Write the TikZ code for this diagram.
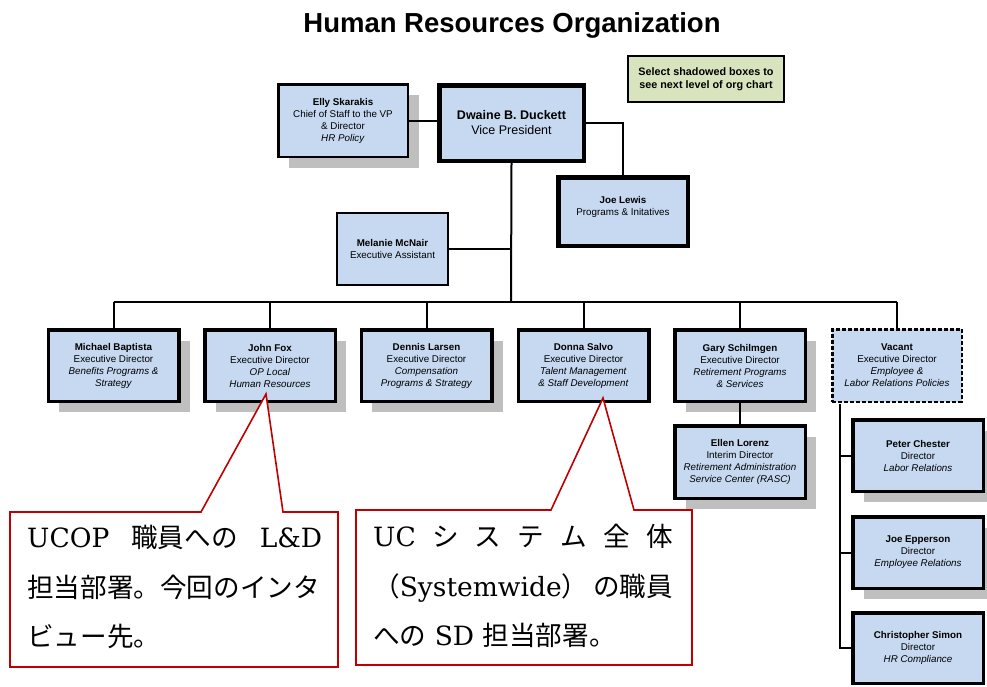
\documentclass[tikz,border=0pt]{standalone}
\usepackage{fontspec}
\newfontfamily\arialf{Liberation Sans}
\newfontfamily\cjkf{Noto Sans CJK JP}
\newfontfamily\lmser{DejaVu Serif}
\newcommand\jpx[1]{{\cjkf\fontsize{26.6}{30}\selectfont #1}}
\usetikzlibrary{shadows}
\definecolor{boxblue}{RGB}{198,217,241}
\definecolor{shadowgray}{RGB}{191,191,191}
\definecolor{notegreen}{RGB}{215,228,189}
\definecolor{callred}{RGB}{192,0,0}
\begin{document}
\begin{tikzpicture}[x=1pt,y=-1pt,
  orgbox/.style={draw=black, fill=boxblue, align=center, inner sep=0pt,
    font=\arialf\fontsize{9.8}{12}\selectfont},
  thickbox/.style={orgbox, line width=3.5pt, minimum width=130.5pt, minimum height=71.5pt},
  thinbox/.style={orgbox, line width=2pt},
  shadowed/.style={drop shadow={shadow xshift=11pt, shadow yshift=-11pt, fill=shadowgray, opacity=1}},
  conn/.style={draw=black, line width=2pt},
  callout/.style={draw=callred, line width=1.6pt, fill=white, line join=miter},
  calltext/.style={anchor=base west, inner sep=0pt, font=\lmser\fontsize{26.5}{30}\selectfont}
]
\useasboundingbox (0,0) rectangle (987,686);

% title
\node[font=\arialf\bfseries\fontsize{27.5}{30}\selectfont] (title) at (512,25) {Human Resources Organization};

% green note
\node[draw=black, line width=2pt, fill=notegreen, minimum width=156pt, minimum height=46pt,
      align=center, inner sep=0pt, font=\arialf\bfseries\fontsize{10.8}{13.5}\selectfont]
      (note) at (706,79) {Select shadowed boxes to\\see next level of org chart};

% top level
\node[thinbox, line width=2.5pt, minimum width=129.5pt, minimum height=72.5pt, shadowed] (elly) at (343,120.5)
  {\textbf{Elly Skarakis}\\Chief of Staff to the VP\\\& Director\\\textit{HR Policy}};
\node[orgbox, line width=4.5pt, minimum width=144.5pt, minimum height=75.5pt,
      font=\arialf\fontsize{12.5}{15}\selectfont] (vp) at (511.5,123)
  {\textbf{Dwaine B. Duckett}\\Vice President};
\node[orgbox, line width=4.5pt, minimum width=129.5pt, minimum height=68.5pt] (jl) at (623,211.5)
  {\textbf{Joe Lewis}\\Programs \& Initatives\\[-1pt]};
\node[thinbox, minimum width=111pt, minimum height=72pt] (mm) at (392.5,249)
  {\textbf{Melanie McNair}\\Executive Assistant};

% second row
\node[thickbox, shadowed] (mb) at (113.5,365.5)
  {\textbf{Michael Baptista}\\Executive Director\\\textit{Benefits Programs \&}\\\textit{Strategy}};
\node[thickbox, shadowed] (jf) at (270,365.5)
  {\textbf{John Fox}\\Executive Director\\\textit{OP Local}\\\textit{Human Resources}};
\node[thickbox, shadowed] (dl) at (426.5,365.5)
  {\textbf{Dennis Larsen}\\Executive Director\\\textit{Compensation}\\\textit{Programs \& Strategy}};
\node[thickbox] (ds) at (583.5,365.5)
  {\textbf{Donna Salvo}\\Executive Director\\\textit{Talent Management}\\\textit{\& Staff Development}};
\node[thickbox, shadowed] (gs) at (740,365.5)
  {\textbf{Gary Schilmgen}\\Executive Director\\\textit{Retirement Programs}\\\textit{\& Services}};
\node[orgbox, line width=2.5pt, dash pattern=on 4pt off 2pt, minimum width=129.5pt, minimum height=72.5pt] (vac) at (897,365.5)
  {\textbf{Vacant}\\Executive Director\\\textit{Employee \&}\\\textit{Labor Relations Policies}};

% third level
\node[thickbox, minimum height=72.5pt, shadowed] (el) at (740,462)
  {\textbf{Ellen Lorenz}\\Interim Director\\\textit{Retirement Administration}\\\textit{Service Center (RASC)}};
\node[thickbox, shadowed] (pc) at (918,455.5)
  {\textbf{Peter Chester}\\Director\\\textit{Labor Relations}};
\node[thickbox, shadowed] (je) at (918,552.5)
  {\textbf{Joe Epperson}\\Director\\\textit{Employee Relations}};
\node[thickbox, minimum height=70.5pt] (cs) at (918,648)
  {\textbf{Christopher Simon}\\Director\\\textit{HR Compliance}};

% connectors
\coordinate (bus) at (511,302);
\coordinate (vtop) at (840,404);
\draw[conn] (elly.east) -- (elly.east -| vp.west);
\draw[conn] (vp.east) -| (jl.north);
\draw[conn] (vp.south) -- (bus);
\draw[conn] (mm.east) -- (mm.east -| vp.south);
\draw[conn] (mb.north |- bus) -- (vac.north |- bus);
\foreach \n in {mb,jf,dl,ds,gs,vac}
  \draw[conn] (\n.north |- bus) -- (\n.north);
\draw[conn] (gs.south) -- (el.north);
\draw[conn] (vtop) |- (cs.west);
\draw[conn] (vtop |- pc.west) -- (pc.west);
\draw[conn] (vtop |- je.west) -- (je.west);

% callouts
\draw[callout] (10,512) -- (201,512) -- (266,394) -- (283,512) -- (338,512)
  -- (338,667) -- (10,667) -- cycle;
\draw[callout] (356,510) -- (551,510) -- (603,398) -- (634,510) -- (692,510)
  -- (692,665) -- (356,665) -- cycle;

\node[calltext] (c1a) at (27,547) {\makebox[295pt][s]{UCOP\hfill\jpx{職員への}\hfill L\&D}};
\node[calltext] (c1b) at (27,597) {\jpx{担当部署。今回のインタ}};
\node[calltext] (c1c) at (27,646) {\jpx{ビュー先。}};

\node[calltext] (c2a) at (373,546) {\makebox[300pt][s]{UC\hfill\jpx{シ}\hfill\jpx{ス}\hfill\jpx{テ}\hfill\jpx{ム}\hfill\jpx{全}\hfill\jpx{体}}};
\node[calltext] (c2b) at (373,596) {\makebox[300pt][s]{\jpx{（}Systemwide\jpx{）}\hfill\jpx{の職員}}};
\node[calltext] (c2c) at (373,645) {\jpx{への} SD \jpx{担当部署。}};
\end{tikzpicture}
\end{document}
